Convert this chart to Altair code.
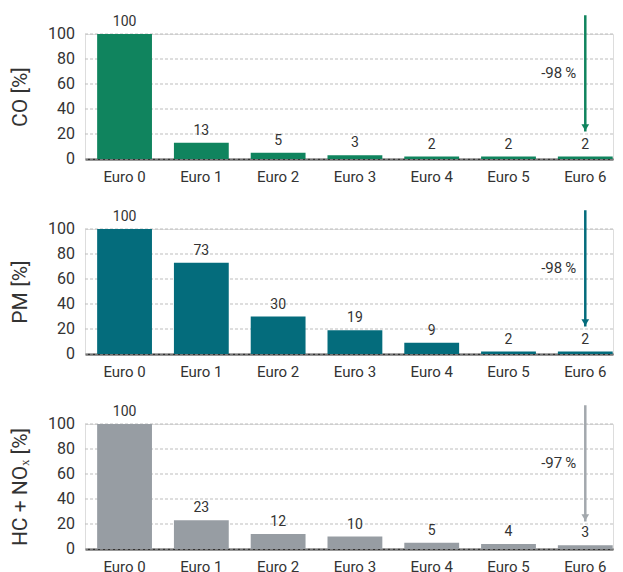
import altair as alt
import pandas as pd

categories = ["Euro 0", "Euro 1", "Euro 2", "Euro 3", "Euro 4", "Euro 5", "Euro 6"]
co_values = [100, 13, 5, 3, 2, 2, 2]
pm_values = [100, 73, 30, 19, 9, 2, 2]
hc_nox_values = [100, 23, 12, 10, 5, 4, 3]
y_ticks = [0, 20, 40, 60, 80, 100]
axis_titles = ["CO [%]", "PM [%]", "HC + NO\u2093 [%]"]
reductions = ["-98\u2009%", "-98\u2009%", "-97\u2009%"]
bar_colors = ["#10845e", "#046c7c", "#979da3"]
arrow_colors = ["#10845e", "#046c7c", "#a3a8ad"]
arrow_start = 115
arrow_end = 22
reduction_level = 68.5

TEXT = "#333333"
W = 528
H = 125


def panel(values, title, reduction, color, arrow_color):
    df = pd.DataFrame({"cat": categories, "val": values})
    ticks_df = pd.DataFrame({"t": y_ticks})
    ann = pd.DataFrame({
        "cat": [categories[-1]],
        "top": [arrow_start],
        "tip": [arrow_end],
        "mid": [reduction_level],
        "txt": [reduction],
    })
    xs = alt.X("cat:N", sort=categories, title=None,
               scale=alt.Scale(paddingInner=0.286, paddingOuter=0.081, align=0.976))
    ys = alt.Y("val:Q", title=title, scale=alt.Scale(domain=[0, 100], nice=False))
    xc = alt.X("cat:N", sort=categories, title=None)

    grid = alt.Chart(ticks_df).mark_rule(
        color="#bdbdbd", strokeWidth=1, strokeDash=[3, 2]
    ).encode(x=alt.value(0), x2=alt.value(W), y=alt.Y("t:Q", title=title))
    ylabels = alt.Chart(ticks_df).mark_text(
        align="right", baseline="middle", dx=-10, fontSize=16, color=TEXT
    ).encode(x=alt.value(0), y=alt.Y("t:Q", title=title), text="t:Q")
    bars = alt.Chart(df).mark_bar(color=color).encode(x=xs, y=ys)
    labels = alt.Chart(df).mark_text(
        baseline="alphabetic", dy=-8, fontSize=14, color=TEXT
    ).encode(x=xc, y=alt.Y("val:Q", title=title), text="val:Q")
    rule = alt.Chart(ann).mark_rule(color=arrow_color, strokeWidth=2.5).encode(
        x=xc, y=alt.Y("top:Q", title=title), y2="tip:Q"
    )
    head = alt.Chart(ann).mark_point(
        shape="triangle-down", filled=True, size=60, opacity=1,
        color=arrow_color, yOffset=-4
    ).encode(x=xc, y=alt.Y("tip:Q", title=title))
    txt = alt.Chart(ann).mark_text(
        align="right", baseline="middle", dx=-9, fontSize=15, color=TEXT
    ).encode(x=xc, y=alt.Y("mid:Q", title=title), text="txt:N")
    return alt.layer(grid, bars, ylabels, labels, rule, head, txt).properties(
        width=W, height=H
    )


series = [co_values, pm_values, hc_nox_values]
panels = [
    panel(series[i], axis_titles[i], reductions[i], bar_colors[i], arrow_colors[i])
    for i in range(3)
]

chart = (
    alt.vconcat(*panels, spacing=23)
    .properties(padding={"left": 0, "top": 5, "right": 0, "bottom": 0})
    .configure_view(strokeWidth=0)
    .configure(font="Roboto")
    .configure_axisX(labelAngle=0, ticks=False, labelPadding=10, labelFontSize=15,
                     labelColor=TEXT, domainColor=TEXT, domainWidth=2, grid=False,
                     labelOverlap=False, zindex=1)
    .configure_axisY(ticks=False, domain=False, labels=False, grid=False,
                     titleFontSize=21, titleFontWeight="normal", titleColor=TEXT,
                     titlePadding=55)
)

chart.save("out.html", embed_options={"renderer": "svg", "actions": False})
